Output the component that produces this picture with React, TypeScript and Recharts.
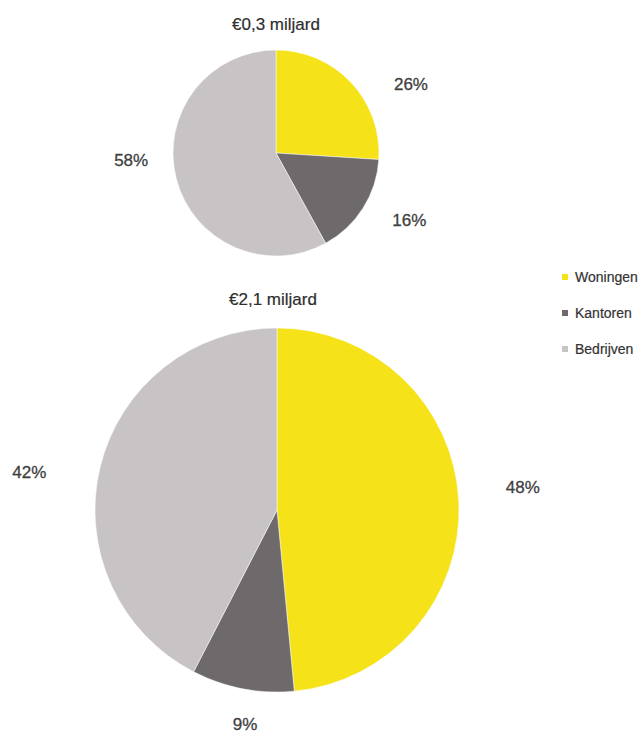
import { PieChart, Pie, Cell, Legend } from 'recharts';

const categories = ['Woningen', 'Kantoren', 'Bedrijven'];
const smallShares = [26, 16, 58];
const largeShares = [48, 9, 42];
const titles = ['€0,3 miljard', '€2,1 miljard'];

const COLORS = ['#f6e219', '#6e6a6b', '#c8c4c6'];
const FONT = '"Liberation Sans", Arial, sans-serif';

const smallData = categories.map((name, i) => ({ name, value: smallShares[i] }));
const largeData = categories.map((name, i) => ({ name, value: largeShares[i] }));

// small tweaks so the labels sit where the original put them
const SMALL_NUDGE: [number, number][] = [[38, 23], [21, -4], [-16, -26]];
const LARGE_NUDGE: [number, number][] = [[24, -12], [10, -3], [-32, 15]];

function makeLabel(pad: number, nudges: [number, number][]) {
  return (props: any) => {
    const { cx, cy, midAngle, outerRadius, index, value } = props;
    const rad = Math.PI / 180;
    const r = outerRadius + pad;
    const [dx, dy] = nudges[index];
    const x = cx + r * Math.cos(-midAngle * rad) + dx;
    const y = cy + r * Math.sin(-midAngle * rad) + dy;
    return (
      <text
        x={x}
        y={y}
        textAnchor="middle"
        dominantBaseline="central"
        fill="#404040"
        stroke="#404040"
        strokeWidth={0.3}
        fontSize={17}
        fontFamily={FONT}
      >
        {value}%
      </text>
    );
  };
}

function LegendList() {
  return (
    <div style={{ fontFamily: FONT, fontSize: 14, color: '#333', WebkitTextStroke: '0.2px #333', whiteSpace: 'nowrap' }}>
      {categories.map((c, i) => (
        <div key={c} style={{ height: 36, display: 'flex', alignItems: 'center' }}>
          <span style={{ width: 6, height: 6, background: COLORS[i], marginRight: 7, display: 'inline-block', flexShrink: 0 }} />
          <span>{c}</span>
        </div>
      ))}
    </div>
  );
}

export default function App() {
  return (
    <div style={{ position: 'absolute', left: 0, top: 0, width: 643, height: 735, overflow: 'hidden', background: '#fff' }}>
      <PieChart width={643} height={735} margin={{ top: 0, right: 0, bottom: 0, left: 0 }}>
        <Pie
          data={smallData}
          dataKey="value"
          nameKey="name"
          cx={276}
          cy={153}
          outerRadius={103}
          startAngle={90}
          endAngle={-270}
          stroke="#ffffff"
          strokeWidth={0.5}
          labelLine={false}
          label={makeLabel(30, SMALL_NUDGE)}
          isAnimationActive={false}
        >
          {smallData.map((d, i) => (
            <Cell key={d.name} fill={COLORS[i]} />
          ))}
        </Pie>
        <Pie
          data={largeData}
          dataKey="value"
          nameKey="name"
          cx={277}
          cy={510}
          outerRadius={182}
          startAngle={90}
          endAngle={-270}
          stroke="#ffffff"
          strokeWidth={0.5}
          labelLine={false}
          label={makeLabel(40, LARGE_NUDGE)}
          isAnimationActive={false}
        >
          {largeData.map((d, i) => (
            <Cell key={d.name} fill={COLORS[i]} />
          ))}
        </Pie>
        <Legend
          layout="vertical"
          align="right"
          verticalAlign="top"
          content={() => <LegendList />}
          wrapperStyle={{ position: 'absolute', left: 562, top: 259, width: 81 }}
        />
      </PieChart>
      <svg width={643} height={735} style={{ position: 'absolute', left: 0, top: 0, pointerEvents: 'none' }}>
        <text x={276} y={30} textAnchor="middle" fill="#2e2e2e" stroke="#2e2e2e" strokeWidth={0.2} fontSize={17} fontFamily={FONT}>
          {titles[0]}
        </text>
        <text x={273} y={305} textAnchor="middle" fill="#2e2e2e" stroke="#2e2e2e" strokeWidth={0.2} fontSize={17} fontFamily={FONT}>
          {titles[1]}
        </text>
      </svg>
    </div>
  );
}
